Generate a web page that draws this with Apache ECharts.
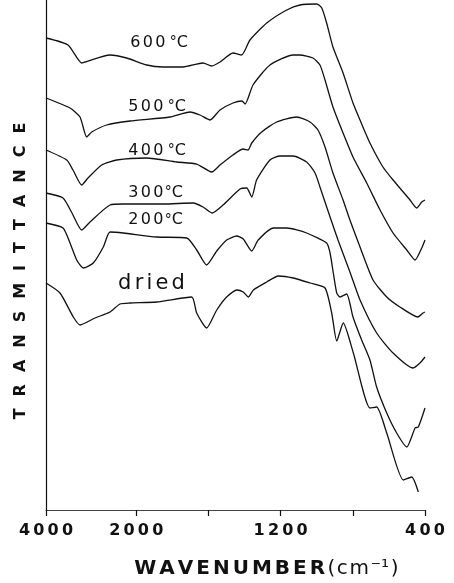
<!DOCTYPE html>
<html>
<head>
<meta charset="utf-8">
<script src="https://cdn.jsdelivr.net/npm/echarts@6/dist/echarts.min.js"></script>
<style>html,body{margin:0;padding:0;background:#fff}#c{width:454px;height:583px}</style>
</head>
<body>
<div id="c"></div>
<script>
// ---- data (wavenumber in cm^-1, transmittance in arbitrary offset units) ----
const wn600 = [4000,3512,3209,3136,2581,2211,1942,1852,1741,1630,1582,1536,1464,1416,1370,1277,1166,1093,1000,972,945,910,854,799,760,705,633,577,483,446,418,400];
const tr600 = [472,465,447,448,455,452,445,443,443,447,444,448,457,455,470,487,500,505,506,502,487,463,437,407,390,367,343,330,310,302,308,310];

const wn500 = [4000,3468,3246,3098,2987,2655,2138,1813,1702,1647,1591,1536,1464,1414,1397,1353,1259,1131,1093,1021,982,954,910,854,799,723,649,577,501,455,418,400];
const tr500 = [412,402,393,373,378,385,389,393,398,395,390,400,407,409,406,425,445,455,455,452,445,430,403,377,353,327,300,277,260,250,262,270];

const wn400 = [4000,3541,3402,3209,3069,2765,2433,1942,1776,1665,1582,1536,1464,1408,1381,1360,1305,1222,1111,1037,993,954,910,854,816,760,688,612,539,439,411,400];
const tr400 = [360,350,340,325,332,345,350,352,348,346,338,345,355,361,360,367,378,388,393,388,380,363,337,310,290,263,230,213,203,193,197,198];

const wn300 = [4000,3623,3424,3209,3025,2581,2293,1852,1685,1630,1580,1519,1425,1388,1360,1333,1259,1203,1131,1056,1009,982,926,882,816,760,668,577,466,428,400];
const tr300 = [317,312,297,280,288,305,306,306,307,303,297,305,321,322,313,330,350,354,354,348,337,323,293,270,238,210,177,157,142,147,153];

const wn200 = [4000,3623,3468,3320,3173,2952,2730,2581,2287,1887,1720,1665,1610,1554,1499,1443,1407,1360,1324,1240,1166,1056,945,926,908,889,871,834,799,751,705,668,612,557,501,455,437,400];
const tr200 = [287,282,267,250,242,247,263,278,277,273,272,260,245,259,270,274,271,259,270,282,282,277,267,257,237,217,213,216,193,170,150,123,97,77,63,82,83,102];

const wnDried = [4000,3690,3395,3246,2914,2581,2360,2138,1887,1693,1665,1610,1554,1499,1443,1407,1379,1351,1277,1213,1130,1037,954,917,889,853,797,705,668,612,520,474,437];
const trDried = [227,217,193,185,192,198,206,207,208,213,197,182,200,213,220,218,213,220,228,234,232,227,222,197,169,187,157,102,103,77,30,33,18];

const seriesNames = ['600°C','500°C','400°C','300°C','200°C','dried'];
const tickWavenumbers = [4000,2000,1600,1200,800,400];
const labelWavenumbers = [4000,2000,1200,400];

// ---- axis transform: scale changes at 2000 cm^-1 (4x compression above) ----
function toAxis(w){ return w >= 2000 ? (4000 - w) / 4 : 500 + (2000 - w); }
function fromAxis(t){ return t <= 500 ? Math.round(4000 - 4 * t) : Math.round(2500 - t); }
function spaced(s, key){ return s.split('').map(ch => '{' + key + '|' + ch + '}').join(''); }

const sets = [[wn600,tr600],[wn500,tr500],[wn400,tr400],[wn300,tr300],[wn200,tr200],[wnDried,trDried]];

const FONT = 'DejaVu Sans';
const INK = '#111';

function degLabel(num, x, y, gap){
  return {
    type:'text', x:x, y:y, z:100,
    style:{
      text: spaced(num,'d') + '{' + (gap ? 'g' : 'n') + '|°}{c|C}',
      align:'left', verticalAlign:'middle',
      rich:{
        d:{fontFamily:FONT, fontSize:16, fill:INK, padding:[0,1.2]},
        g:{fontFamily:FONT, fontSize:14, fill:INK, padding:[0,0,0,3]},
        n:{fontFamily:FONT, fontSize:14, fill:INK, padding:[0,0,0,0]},
        c:{fontFamily:FONT, fontSize:16, fill:INK, padding:[0,0,0,0]}
      }
    }
  };
}

const option = {
  animation:false,
  backgroundColor:'#fff',
  grid:{left:46, right:29, top:0, bottom:73},
  xAxis:{
    type:'value', min:0, max:2100,
    axisLine:{show:true, lineStyle:{color:'#444', width:1}},
    axisTick:{show:true, length:6, customValues: tickWavenumbers.map(toAxis), lineStyle:{color:'#111', width:1.2}},
    axisLabel:{
      show:true, margin:13,
      customValues: labelWavenumbers.map(toAxis),
      formatter: v => spaced(String(fromAxis(v)),'t'),
      rich:{t:{fontFamily:FONT, fontWeight:'bold', fontSize:16, color:INK, padding:[0,1.6]}}
    },
    splitLine:{show:false}
  },
  yAxis:{
    type:'value', min:0, max:510,
    axisLine:{show:true, lineStyle:{color:'#111', width:1.2}},
    axisTick:{show:false}, axisLabel:{show:false}, splitLine:{show:false}
  },
  series: sets.map((s,i) => ({
    name: seriesNames[i],
    type:'line',
    data: s[0].map((w,j) => [toAxis(w), s[1][j]]),
    showSymbol:false,
    smooth:0.2,
    lineStyle:{color:INK, width:1.3},
    silent:true
  })),
  graphic:[
    {type:'text', x:21, y:271, rotation:Math.PI/2,
     style:{text: spaced('TRANSMITTANCE','y'), align:'center', verticalAlign:'middle',
       rich:{y:{fontFamily:FONT, fontWeight:'bold', fontSize:16, fill:INK, padding:[0,6]}}}},
    {type:'text', x:266, y:569,
     style:{text: spaced('WAVENUMBER','b') + '{r|(}{r|c}{r|m}{r|⁻¹}{r|)}', align:'center', verticalAlign:'middle',
       rich:{
         b:{fontFamily:FONT, fontWeight:'bold', fontSize:20, fill:INK, padding:[0,1.5]},
         r:{fontFamily:FONT, fontSize:20, fill:INK, padding:[0,0.8]}
       }}},
    degLabel('600', 129, 42.5, true),
    degLabel('500', 127, 106.5, true),
    degLabel('400', 127, 150.5, true),
    degLabel('300', 127, 192.5, false),
    degLabel('200', 127, 220, false),
    {type:'text', x:116.5, y:284,
     style:{text: spaced('dried','w'), align:'left', verticalAlign:'middle',
       rich:{w:{fontFamily:FONT, fontSize:21, fill:INK, padding:[0,1.6]}}}}
  ]
};

const chart = echarts.init(document.getElementById('c'), null, {renderer:'canvas'});
chart.setOption(option);
</script>
</body>
</html>
